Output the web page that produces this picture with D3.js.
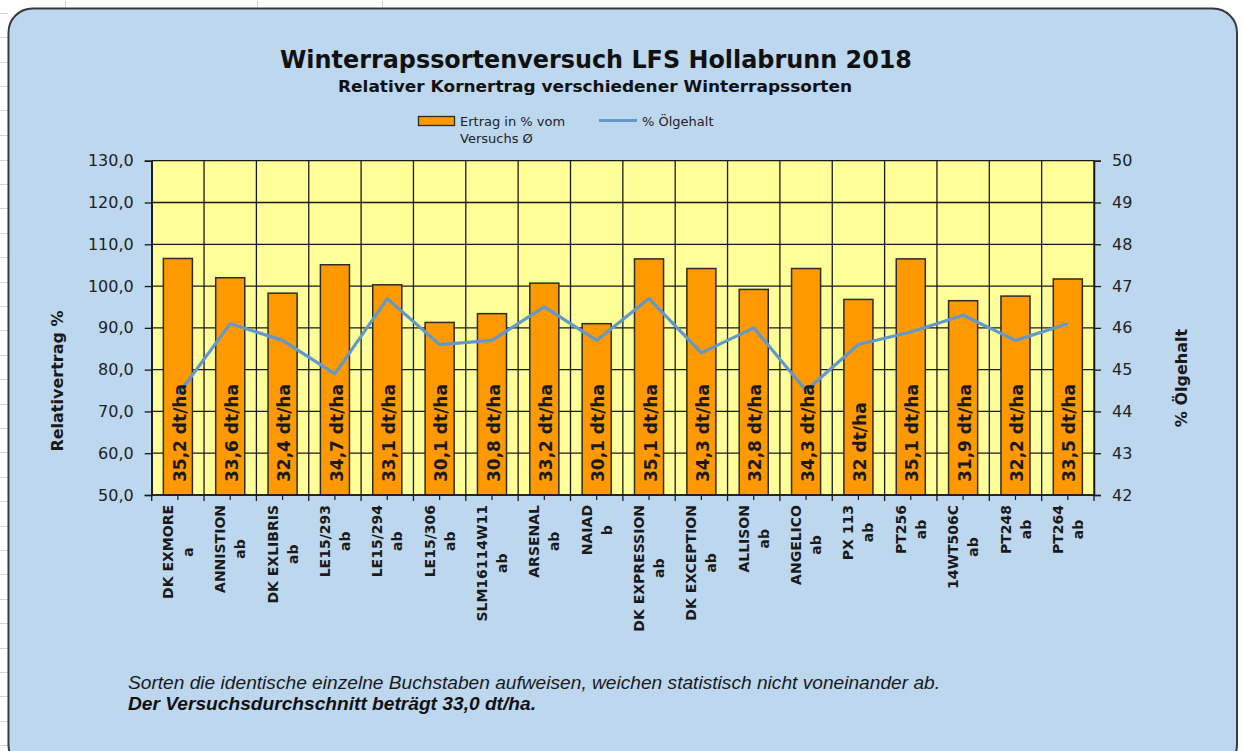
<!DOCTYPE html>
<html>
<head>
<meta charset="utf-8">
<script src="https://cdn.jsdelivr.net/npm/d3@7"></script>
<style>
  html, body { margin: 0; padding: 0; background: #ffffff; }
  svg { display: block; }
</style>
</head>
<body>
<svg id="chart" width="1242" height="751"></svg>
<script>
// ---------- DATA ----------
const categories = ["DK EXMORE","ANNISTION","DK EXLIBRIS","LE15/293","LE15/294","LE15/306","SLM16114W11","ARSENAL","NAIAD","DK EXPRESSION","DK EXCEPTION","ALLISON","ANGELICO","PX 113","PT256","14WT506C","PT248","PT264"];
const groupLetters = ["a","ab","ab","ab","ab","ab","ab","ab","b","ab","ab","ab","ab","ab","ab","ab","ab","ab"];
const relYield = [106.6, 102.0, 98.3, 105.1, 100.3, 91.3, 93.4, 100.7, 91.0, 106.5, 104.2, 99.2, 104.2, 96.8, 106.5, 96.5, 97.6, 101.7];
const yieldLabels = ["35,2","33,6","32,4","34,7","33,1","30,1","30,8","33,2","30,1","35,1","34,3","32,8","34,3","32","35,1","31,9","32,2","33,5"];
const oilContent = [44.4, 46.1, 45.7, 44.9, 46.7, 45.6, 45.7, 46.5, 45.7, 46.7, 45.4, 46.0, 44.5, 45.6, 45.9, 46.3, 45.7, 46.1];
const leftTicks = [50, 60, 70, 80, 90, 100, 110, 120, 130];
const rightTicks = [42, 43, 44, 45, 46, 47, 48, 49, 50];
const titleText = "Winterrapssortenversuch LFS Hollabrunn 2018";
const subtitleText = "Relativer Kornertrag verschiedener Winterrapssorten";
const legendBarText = ["Ertrag in % vom", "Versuchs Ø"];
const legendLineText = "%  Ölgehalt";
const leftAxisTitle = "Relativertrag %";
const rightAxisTitle = "% Ölgehalt";
const footnote1 = "Sorten die identische einzelne Buchstaben aufweisen, weichen statistisch nicht voneinander ab.";
const footnote2 = "Der Versuchsdurchschnitt beträgt 33,0 dt/ha.";

// ---------- LAYOUT ----------
const svg = d3.select("#chart");
const plot = { left: 151.7, right: 1094, top: 160.7, bottom: 495 };
const FONT = "'DejaVu Sans', Verdana, sans-serif";

// Excel sheet faint grid outside the chart box
const sheet = svg.append("g").attr("stroke", "#d6d6d6").attr("stroke-width", 1);
[13, 37, 62, 86, 110, 135, 160, 184, 208, 233, 257, 282, 306, 330, 355, 379, 404, 428, 452, 477, 501, 526, 550, 574, 599, 623, 648, 672, 696, 721, 745].forEach(y => {
  sheet.append("line").attr("x1", 0).attr("x2", 8).attr("y1", y + 0.5).attr("y2", y + 0.5);
});
[65, 257, 382].forEach(x => {
  sheet.append("line").attr("x1", x + 0.5).attr("x2", x + 0.5).attr("y1", 0).attr("y2", 8);
});

// Chart box
svg.append("rect")
  .attr("x", 8.5).attr("y", 8.5)
  .attr("width", 1237 - 8.5).attr("height", 760)
  .attr("rx", 24).attr("ry", 24)
  .attr("fill", "#BDD7EE")
  .attr("stroke", "#3a3a3a").attr("stroke-width", 2);

// ---------- SCALES ----------
const x = d3.scaleBand().domain(categories).range([plot.left, plot.right]).paddingInner(0).paddingOuter(0);
const yL = d3.scaleLinear().domain([50, 130]).range([plot.bottom, plot.top]);
const yR = d3.scaleLinear().domain([42, 50]).range([plot.bottom, plot.top]);
const barW = x.bandwidth() * 0.555;

// Plot area background
svg.append("rect")
  .attr("x", plot.left).attr("y", plot.top)
  .attr("width", plot.right - plot.left).attr("height", plot.bottom - plot.top)
  .attr("fill", "#FFFF99");

// Gridlines
const grid = svg.append("g").attr("stroke", "#1a1a1a").attr("stroke-width", 1.3);
leftTicks.forEach(t => {
  grid.append("line").attr("x1", plot.left).attr("x2", plot.right).attr("y1", yL(t)).attr("y2", yL(t));
});
categories.forEach(c => {
  grid.append("line").attr("x1", x(c)).attr("x2", x(c)).attr("y1", plot.top).attr("y2", plot.bottom);
});
grid.append("line").attr("x1", plot.right).attr("x2", plot.right).attr("y1", plot.top).attr("y2", plot.bottom);

// Bars
svg.append("g").selectAll("rect").data(categories).join("rect")
  .attr("x", (d) => x(d) + (x.bandwidth() - barW) / 2)
  .attr("y", (d, i) => yL(relYield[i]))
  .attr("width", barW)
  .attr("height", (d, i) => yL(50) - yL(relYield[i]))
  .attr("fill", "#FF9900")
  .attr("stroke", "#2b2b2b").attr("stroke-width", 1.5);

// Oil content line
const lineGen = d3.line()
  .x((d, i) => x(categories[i]) + x.bandwidth() / 2)
  .y(d => yR(d));
svg.append("path").datum(oilContent)
  .attr("d", lineGen)
  .attr("fill", "none")
  .attr("stroke", "#6199CC")
  .attr("stroke-width", 3.2)
  .attr("stroke-linejoin", "round");

// Data labels inside bars
svg.append("g").selectAll("text").data(categories).join("text")
  .attr("transform", d => `translate(${x(d) + x.bandwidth() / 2 + 1.5},${plot.bottom - 13}) rotate(-90)`)
  .attr("dy", "0.36em")
  .attr("text-anchor", "start")
  .attr("font-family", FONT).attr("font-weight", "bold").attr("font-size", 17)
  .attr("fill", "#1a1a1a")
  .text((d, i) => yieldLabels[i] + " dt/ha");

// Left axis
const axL = svg.append("g").attr("transform", `translate(${plot.left},0)`)
  .call(d3.axisLeft(yL).tickValues(leftTicks).tickSize(7).tickPadding(11)
    .tickFormat(d => d.toFixed(1).replace(".", ",")));
axL.select(".domain").attr("stroke", "#1a1a1a").attr("stroke-width", 1.5);
axL.selectAll(".tick line").attr("stroke", "#1a1a1a").attr("stroke-width", 1.3);
axL.selectAll(".tick text").attr("font-family", FONT).attr("font-size", 16).attr("fill", "#222");

// Right axis
const axR = svg.append("g").attr("transform", `translate(${plot.right},0)`)
  .call(d3.axisRight(yR).tickValues(rightTicks).tickSize(7).tickPadding(11).tickFormat(d3.format("d")));
axR.select(".domain").attr("stroke", "#1a1a1a").attr("stroke-width", 1.5);
axR.selectAll(".tick line").attr("stroke", "#1a1a1a").attr("stroke-width", 1.3);
axR.selectAll(".tick text").attr("font-family", FONT).attr("font-size", 16).attr("fill", "#222");

// Bottom axis line and ticks
const axB = svg.append("g");
axB.append("line").attr("x1", plot.left).attr("x2", plot.right).attr("y1", plot.bottom).attr("y2", plot.bottom)
  .attr("stroke", "#1a1a1a").attr("stroke-width", 1.5);
categories.forEach(c => {
  axB.append("line").attr("x1", x(c)).attr("x2", x(c)).attr("y1", plot.bottom).attr("y2", plot.bottom + 6)
    .attr("stroke", "#1a1a1a").attr("stroke-width", 1.3);
  axB.append("line").attr("x1", x(c) + x.bandwidth() / 2).attr("x2", x(c) + x.bandwidth() / 2)
    .attr("y1", plot.bottom).attr("y2", plot.bottom + 5)
    .attr("stroke", "#1a1a1a").attr("stroke-width", 1.2);
});
axB.append("line").attr("x1", plot.right).attr("x2", plot.right).attr("y1", plot.bottom).attr("y2", plot.bottom + 6)
  .attr("stroke", "#1a1a1a").attr("stroke-width", 1.3);

// Category labels (rotated, two lines, block centered on category)
const labelTop = 505;
const lineGap = 20;
categories.forEach((c, i) => {
  const lines = [c, groupLetters[i]];
  const g = svg.append("g");
  const texts = lines.map(t => g.append("text")
    .attr("font-family", FONT).attr("font-weight", "bold").attr("font-size", 14)
    .attr("fill", "#1a1a1a").attr("text-anchor", "middle").attr("dy", "0.36em").text(t));
  const maxLen = d3.max(texts, t => t.node().getComputedTextLength());
  const cy = labelTop + maxLen / 2;
  const cx = x(c) + x.bandwidth() / 2;
  texts.forEach((t, k) => {
    const lx = cx + (k - (lines.length - 1) / 2) * lineGap;
    t.attr("transform", `translate(${lx},${cy}) rotate(-90)`);
  });
});

// Axis titles
svg.append("text")
  .attr("transform", "translate(57,381) rotate(-90)")
  .attr("text-anchor", "middle").attr("dy", "0.36em")
  .attr("font-family", FONT).attr("font-weight", "bold").attr("font-size", 16)
  .attr("fill", "#1a1a1a").text(leftAxisTitle);
svg.append("text")
  .attr("transform", "translate(1181,378) rotate(-90)")
  .attr("text-anchor", "middle").attr("dy", "0.36em")
  .attr("font-family", FONT).attr("font-weight", "bold").attr("font-size", 16)
  .attr("fill", "#1a1a1a").text(rightAxisTitle);

// Titles (condensed to measured widths)
svg.append("text").attr("x", 280).attr("y", 68)
  .attr("font-family", FONT).attr("font-weight", "bold")
  .attr("font-size", 25).attr("fill", "#111")
  .attr("textLength", 632).attr("lengthAdjust", "spacingAndGlyphs")
  .text(titleText);
svg.append("text").attr("x", 338).attr("y", 92)
  .attr("font-family", FONT).attr("font-weight", "bold")
  .attr("font-size", 16.5).attr("fill", "#111")
  .attr("textLength", 514).attr("lengthAdjust", "spacingAndGlyphs")
  .text(subtitleText);

// Legend
const lg = svg.append("g");
lg.append("rect").attr("x", 418.5).attr("y", 116.5).attr("width", 36).attr("height", 9)
  .attr("fill", "#FF9900").attr("stroke", "#2b2b2b").attr("stroke-width", 1.3);
legendBarText.forEach((t, k) => {
  lg.append("text").attr("x", 460).attr("y", 126 + k * 17)
    .attr("font-family", FONT).attr("font-size", 13).attr("fill", "#222").text(t);
});
lg.append("line").attr("x1", 599).attr("x2", 637).attr("y1", 120.5).attr("y2", 120.5)
  .attr("stroke", "#6199CC").attr("stroke-width", 3);
lg.append("text").attr("x", 642).attr("y", 126)
  .attr("font-family", FONT).attr("font-size", 13).attr("fill", "#222").text(legendLineText);

// Footnotes
svg.append("text").attr("x", 128).attr("y", 689)
  .attr("font-family", "'Liberation Sans Narrow', 'Liberation Sans', Arial, sans-serif")
  .attr("font-style", "italic").attr("font-size", 18).attr("fill", "#1a1a1a")
  .attr("textLength", 812).attr("lengthAdjust", "spacingAndGlyphs")
  .text(footnote1);
svg.append("text").attr("x", 128).attr("y", 710)
  .attr("font-family", "'Liberation Sans Narrow', 'Liberation Sans', Arial, sans-serif")
  .attr("font-style", "italic").attr("font-weight", "bold").attr("font-size", 18).attr("fill", "#111")
  .attr("textLength", 408).attr("lengthAdjust", "spacingAndGlyphs")
  .text(footnote2);
</script>
</body>
</html>
